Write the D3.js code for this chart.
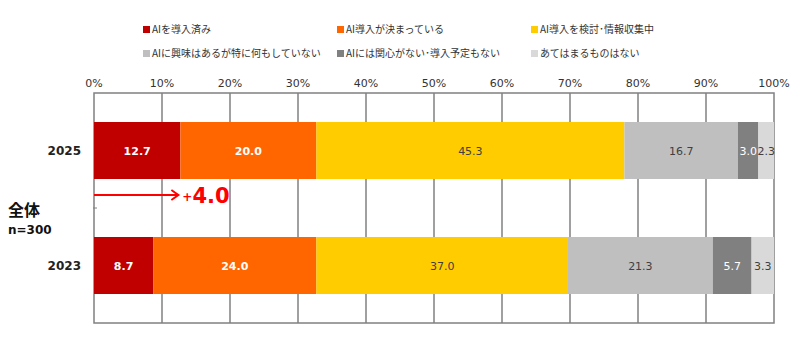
<!DOCTYPE html>
<html>
<head>
<meta charset="utf-8">
<script src="https://cdn.jsdelivr.net/npm/d3@7"></script>
<style>
  body { margin: 0; background: #fff; }
  svg { display: block; }
  text { font-family: "DejaVu Sans", "Noto Sans CJK JP", sans-serif; }
  .jp { font-family: "Noto Sans CJK JP", sans-serif; }
</style>
</head>
<body>
<div id="chart"></div>
<script>
const years = ['2025', '2023'];
const categories = [
  'AIを導入済み',
  'AI導入が決まっている',
  'AI導入を検討･情報収集中',
  'AIに興味はあるが特に何もしていない',
  'AIには関心がない･導入予定もない',
  'あてはまるものはない',
];
const values2025 = [12.7, 20.0, 45.3, 16.7, 3.0, 2.3];
const values2023 = [8.7, 24.0, 37.0, 21.3, 5.7, 3.3];
const tickValues = [0, 10, 20, 30, 40, 50, 60, 70, 80, 90, 100];
const diffLabel = '4.0';

const colors = ['#C00000', '#FF6600', '#FFCC00', '#BFBFBF', '#808080', '#D9D9D9'];
const labelColors = ['#fff', '#fff', '#404040', '#404040', '#fff', '#404040'];
const labelWeights = ['bold', 'bold', 'normal', 'normal', 'normal', 'normal'];

const width = 800;
const height = 354;
const margin = { top: 93, right: 26, bottom: 31, left: 94 };

const svg = d3.select('#chart')
  .append('svg')
  .attr('width', width)
  .attr('height', height);

const x = d3.scaleLinear()
  .domain([0, 100])
  .range([margin.left, width - margin.right]);

const y = d3.scaleBand()
  .domain(years)
  .range([margin.top, height - margin.bottom])
  .paddingInner(1)
  .paddingOuter(0.5);

const bandH = 57;

// stack the rows
const rows = years.map((yr, i) => {
  const vals = i === 0 ? values2025 : values2023;
  let acc = 0;
  return vals.map((v, k) => {
    const seg = { year: yr, k, v, x0: acc, x1: acc + v };
    acc += v;
    return seg;
  });
});

// frame + grid
svg.append('rect')
  .attr('x', x(0))
  .attr('y', margin.top)
  .attr('width', x(100) - x(0))
  .attr('height', height - margin.bottom - margin.top)
  .attr('fill', 'none')
  .attr('stroke', '#808080')
  .attr('stroke-width', 1.5);

svg.selectAll('line.grid')
  .data(tickValues.slice(1, -1))
  .enter()
  .append('line')
  .attr('class', 'grid')
  .attr('x1', (d) => x(d))
  .attr('x2', (d) => x(d))
  .attr('y1', margin.top)
  .attr('y2', height - margin.bottom)
  .attr('stroke', '#808080')
  .attr('stroke-width', 1.5);

// top axis labels
svg.selectAll('text.tick')
  .data(tickValues)
  .enter()
  .append('text')
  .attr('class', 'tick')
  .attr('x', (d) => x(d))
  .attr('y', 87)
  .attr('text-anchor', 'middle')
  .attr('font-size', 11)
  .attr('fill', '#333')
  .text((d) => `${d}%`);

// bars
const yMid = (yr) => y(yr);
rows.forEach((segs) => {
  const g = svg.append('g');
  g.selectAll('rect')
    .data(segs)
    .enter()
    .append('rect')
    .attr('x', (d) => x(d.x0))
    .attr('y', (d) => yMid(d.year) - bandH / 2)
    .attr('width', (d) => x(d.x1) - x(d.x0))
    .attr('height', bandH)
    .attr('fill', (d) => colors[d.k]);
  g.selectAll('text')
    .data(segs)
    .enter()
    .append('text')
    .attr('x', (d) => (x(d.x0) + x(d.x1)) / 2)
    .attr('y', (d) => yMid(d.year) + 4)
    .attr('text-anchor', 'middle')
    .attr('font-size', 11)
    .attr('font-weight', (d) => labelWeights[d.k])
    .attr('fill', (d) => labelColors[d.k])
    .text((d) => d.v.toFixed(1));
});

// year labels
svg.selectAll('text.year')
  .data(years)
  .enter()
  .append('text')
  .attr('class', 'year')
  .attr('x', 81)
  .attr('y', (d) => yMid(d) + 4)
  .attr('text-anchor', 'end')
  .attr('font-size', 12)
  .attr('font-weight', 'bold')
  .attr('fill', '#222')
  .text((d) => d);

// small tick on category axis
const midY = (yMid(years[0]) + yMid(years[1])) / 2;
svg.append('line')
  .attr('x1', x(0) - 1).attr('x2', x(0) + 3)
  .attr('y1', midY).attr('y2', midY)
  .attr('stroke', '#808080');

// group label
svg.append('text')
  .attr('class', 'jp')
  .attr('x', 8).attr('y', 216)
  .attr('font-size', 16).attr('font-weight', 'bold').attr('fill', '#111')
  .text('全体');
svg.append('text')
  .attr('x', 8).attr('y', 234)
  .attr('font-size', 12).attr('font-weight', 'bold').attr('fill', '#111')
  .text('n=300');

// change annotation
const arrowY = 195;
const arrowEnd = x(values2025[0]) - 2;
svg.append('line')
  .attr('x1', x(0)).attr('x2', arrowEnd)
  .attr('y1', arrowY).attr('y2', arrowY)
  .attr('stroke', '#FF0000').attr('stroke-width', 2);
svg.append('path')
  .attr('d', `M${arrowEnd - 7},${arrowY - 5} L${arrowEnd},${arrowY} L${arrowEnd - 7},${arrowY + 5}`)
  .attr('fill', 'none')
  .attr('stroke', '#FF0000').attr('stroke-width', 2);
const ann = svg.append('text')
  .attr('x', arrowEnd + 4).attr('y', arrowY + 8)
  .attr('fill', '#FF0000').attr('font-weight', 'bold');
ann.append('tspan').attr('font-size', 12).attr('dy', -2).text('+');
ann.append('tspan').attr('font-size', 21).attr('dy', 2).text(diffLabel);

// legend
const legendPos = [
  [143, 33], [337, 33], [531, 33],
  [143, 57], [337, 57], [531, 57],
];
const legend = svg.selectAll('g.legend')
  .data(categories)
  .enter()
  .append('g')
  .attr('class', 'legend')
  .attr('transform', (d, i) => `translate(${legendPos[i][0]},${legendPos[i][1]})`);
legend.append('rect')
  .attr('x', 0).attr('y', -7)
  .attr('width', 7).attr('height', 7)
  .attr('fill', (d, i) => colors[i]);
legend.append('text')
  .attr('class', 'jp')
  .attr('x', 9).attr('y', 0)
  .attr('font-size', 10)
  .attr('fill', '#333')
  .text((d) => d);
</script>
</body>
</html>
